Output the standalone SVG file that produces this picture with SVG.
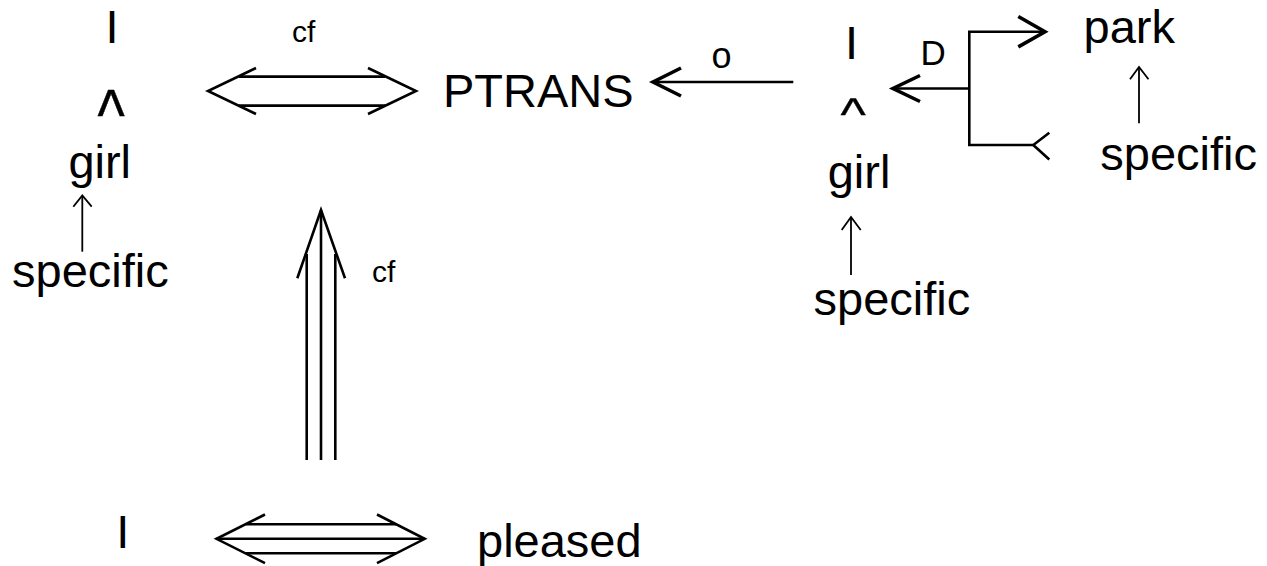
<svg xmlns="http://www.w3.org/2000/svg" width="1267" height="566" viewBox="0 0 1267 566">
<style>
text{font-family:"Liberation Sans",Arial,sans-serif;fill:#000}
.t{font-size:47px}
.s{font-size:30px}
.c{stroke:#000;stroke-width:0.4}
.ln{fill:none;stroke:#000;stroke-width:2.6}
.th{fill:none;stroke:#000;stroke-width:1.8}
.hd{fill:none;stroke:#000;stroke-width:3.6}
</style>
<rect width="1267" height="566" fill="#fff"/>
<g id="I-left"><text class="t" x="105.6" y="43.3">I</text></g>
<g id="caret-left"><text class="t c" style="font-size:58px" transform="translate(97.5,139.5) scale(1,1.25)">^</text></g>
<g id="girl-left"><text class="t" x="68.4" y="178">girl</text></g>
<g id="specific-left"><text class="t" x="12" y="286.5">specific</text></g>
<g id="PTRANS"><text class="t" x="443" y="107.3">PTRANS</text></g>
<g id="I-right"><text class="t" x="844.9" y="59.3">I</text></g>
<g id="caret-right"><text class="t c" style="font-size:54px" transform="translate(840.5,130.2) scale(1,0.84)">^</text></g>
<g id="girl-right"><text class="t" x="827.7" y="188.3">girl</text></g>
<g id="specific-right-bottom"><text class="t" x="813.6" y="315">specific</text></g>
<g id="park"><text class="t" x="1083.6" y="43.3">park</text></g>
<g id="specific-park"><text class="t" x="1100.3" y="170">specific</text></g>
<g id="I-bottom"><text class="t" x="116.3" y="548.3">I</text></g>
<g id="pleased"><text class="t" x="477" y="556.7">pleased</text></g>
<g id="connectors">
  <!-- top double arrow I <=> PTRANS -->
  <polyline class="ln" points="256,68 208,91 256,114"/>
  <polyline class="ln" points="368,68 416,91 368,114"/>
  <line class="ln" x1="239" y1="76.6" x2="385" y2="76.6"/>
  <line class="ln" x1="239" y1="105.6" x2="385" y2="105.6"/>
  <text class="s" x="292" y="42">cf</text>
  <!-- vertical triple arrow -->
  <polyline class="ln" points="297.3,278.3 321,210 345,278.3"/>
  <line class="ln" x1="321" y1="210" x2="321" y2="460"/>
  <line class="ln" x1="306.7" y1="254" x2="306.7" y2="460"/>
  <line class="ln" x1="335.3" y1="254" x2="335.3" y2="460"/>
  <text class="s" x="372" y="282">cf</text>
  <!-- bottom triple double arrow -->
  <polyline class="ln" points="265,514.5 216.5,538.8 265,563.1"/>
  <polyline class="ln" points="377,514.5 424.7,538.8 377,563.1"/>
  <line class="ln" x1="216.5" y1="538.8" x2="424.7" y2="538.8"/>
  <line class="ln" x1="246" y1="524.3" x2="396" y2="524.3"/>
  <line class="ln" x1="246" y1="553.3" x2="396" y2="553.3"/>
  <!-- specific -> girl left -->
  <line class="th" x1="82.3" y1="251.7" x2="82.3" y2="195.5"/>
  <polyline class="th" points="73.3,206.7 82.3,195.5 91.7,206.7"/>
  <!-- I(right) -> PTRANS with o -->
  <line class="ln" x1="793.3" y1="82" x2="653" y2="82"/>
  <polyline class="hd" points="681,68 653,82 681,96"/>
  <text style="font-size:36px" x="721.5" y="67.6" text-anchor="middle">o</text>
  <!-- fork D -->
  <line class="ln" x1="969.3" y1="88.5" x2="893" y2="88.5"/>
  <polyline class="hd" points="920,75.5 893,88.5 920,101.5"/>
  <polyline class="ln" points="1045,31.7 969.3,31.7 969.3,145 1033.3,145"/>
  <polyline class="hd" points="1018.3,16.5 1045,31.7 1018.3,46.9"/>
  <polyline class="ln" points="1049.3,132.7 1033.3,145 1049.3,159.5"/>
  <text style="font-size:35px" x="920.5" y="65">D</text>
  <!-- specific -> girl right -->
  <line class="th" x1="851" y1="275" x2="851" y2="217"/>
  <polyline class="th" points="841.7,230 851,217 860.7,230"/>
  <!-- specific -> park -->
  <line class="th" x1="1139" y1="123.3" x2="1139" y2="67"/>
  <polyline class="th" points="1130,79.3 1139,67 1148.5,79.3"/>
</g>
</svg>
